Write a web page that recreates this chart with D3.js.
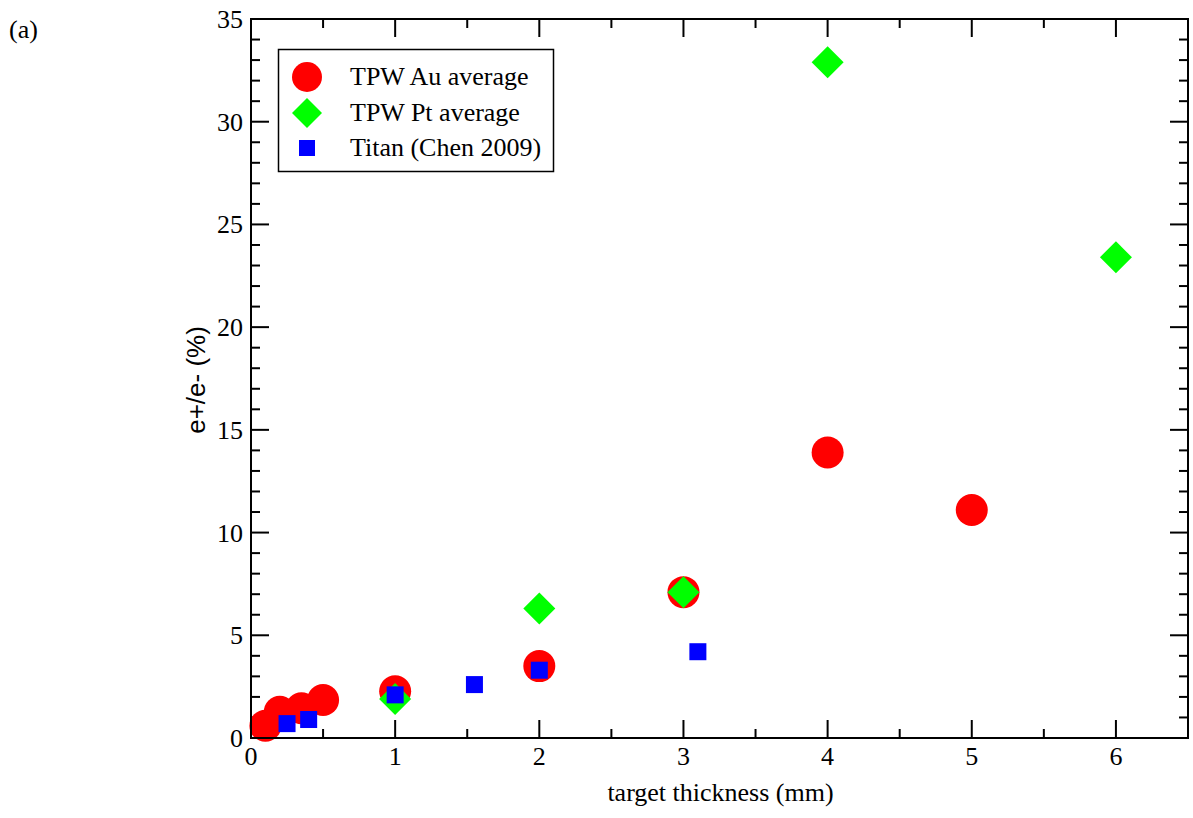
<!DOCTYPE html>
<html>
<head>
<meta charset="utf-8">
<script src="https://cdn.jsdelivr.net/npm/d3@7"></script>
<style>
  body { margin: 0; background: #fff; }
</style>
</head>
<body>
<svg id="chart" width="1193" height="818"></svg>
<script>
// ---- data ----
var auThickness = [0.1, 0.2, 0.35, 0.5, 1, 2, 3, 4, 5];
var auRatio     = [0.6, 1.28, 1.45, 1.85, 2.27, 3.5, 7.1, 13.9, 11.1];

var ptThickness = [1, 2, 3, 4, 6];
var ptRatio     = [1.9, 6.3, 7.1, 32.9, 23.4];

var titanThickness = [0.25, 0.4, 1, 1.55, 2, 3.1];
var titanRatio     = [0.7, 0.9, 2.1, 2.6, 3.3, 4.2];

var seriesNames = ["TPW Au average", "TPW Pt average", "Titan (Chen 2009)"];
var xTicks = [0, 1, 2, 3, 4, 5, 6];
var yTicks = [0, 5, 10, 15, 20, 25, 30, 35];

var SERIF = "'Liberation Serif', 'Times New Roman', Times, serif";

var svg = d3.select("#chart");
var margin = { left: 251, right: 5, top: 19, bottom: 80 };
var W = 1193, H = 818;

var x = d3.scaleLinear().domain([0, 6.5]).range([margin.left, W - margin.right]);
var y = d3.scaleLinear().domain([0, 35]).range([H - margin.bottom, margin.top]);

var x0 = x.range()[0], x1 = x.range()[1];
var y0 = y.range()[0], y1 = y.range()[1];

// inward ticks on all four sides
var xMinor = d3.range(0.5, 6.5, 1);
var yMinor = d3.range(0, 35, 1).filter(function(v) { return v % 5 !== 0; });

var ticks = svg.append("g").attr("stroke", "#000").attr("stroke-width", 2);
function tickLines(vals, len, horizontal) {
    vals.forEach(function(v) {
        if (horizontal) {
            ticks.append("line").attr("x1", x(v)).attr("x2", x(v)).attr("y1", y0).attr("y2", y0 - len);
            ticks.append("line").attr("x1", x(v)).attr("x2", x(v)).attr("y1", y1).attr("y2", y1 + len);
        } else {
            ticks.append("line").attr("y1", y(v)).attr("y2", y(v)).attr("x1", x0).attr("x2", x0 + len);
            ticks.append("line").attr("y1", y(v)).attr("y2", y(v)).attr("x1", x1).attr("x2", x1 - len);
        }
    });
}
tickLines(xTicks, 18, true);
tickLines(xMinor, 9, true);
tickLines(yTicks, 18, false);
tickLines(yMinor, 9, false);

// tick labels
svg.append("g").selectAll("text").data(xTicks).enter().append("text")
    .attr("x", function(d) { return x(d); })
    .attr("y", y0 + 27)
    .attr("text-anchor", "middle")
    .attr("font-family", SERIF)
    .attr("font-size", 26)
    .text(function(d) { return d; });

svg.append("g").selectAll("text").data(yTicks).enter().append("text")
    .attr("x", x0 - 8)
    .attr("y", function(d) { return y(d) + 9; })
    .attr("text-anchor", "end")
    .attr("font-family", SERIF)
    .attr("font-size", 26)
    .text(function(d) { return d; });

// axis titles
svg.append("text")
    .attr("x", (x0 + x1) / 2 + 1)
    .attr("y", 801)
    .attr("text-anchor", "middle")
    .attr("font-family", SERIF)
    .attr("font-size", 26)
    .text("target thickness (mm)");

svg.append("text")
    .attr("transform", "translate(205,380) rotate(-90)")
    .attr("text-anchor", "middle")
    .attr("font-size", 26)
    .attr("font-family", "'Liberation Sans', Arial, sans-serif")
    .text("e+/e- (%)");

svg.append("text")
    .attr("x", 9)
    .attr("y", 38)
    .attr("font-family", SERIF)
    .attr("font-size", 26)
    .text("(a)");

// ---- markers ----
var diamond = function(cx, cy, r) {
    return "M" + cx + "," + (cy - r) + "L" + (cx + r) + "," + cy + "L" + cx + "," + (cy + r) + "L" + (cx - r) + "," + cy + "Z";
};

svg.append("g").selectAll("circle").data(auThickness).enter().append("circle")
    .attr("cx", function(d) { return x(d); })
    .attr("cy", function(d, i) { return y(auRatio[i]); })
    .attr("r", 16)
    .attr("fill", "#ff0000");

svg.append("g").selectAll("path").data(ptThickness).enter().append("path")
    .attr("d", function(d, i) { return diamond(x(d), y(ptRatio[i]), 16); })
    .attr("fill", "#00ff00");

svg.append("g").selectAll("rect").data(titanThickness).enter().append("rect")
    .attr("x", function(d) { return x(d) - 8.5; })
    .attr("y", function(d, i) { return y(titanRatio[i]) - 8.5; })
    .attr("width", 17)
    .attr("height", 17)
    .attr("fill", "#0000ff");

// frame
svg.append("rect")
    .attr("x", x0).attr("y", y1)
    .attr("width", x1 - x0).attr("height", y0 - y1)
    .attr("fill", "none").attr("stroke", "#000").attr("stroke-width", 2);

// ---- legend ----
var legend = svg.append("g");
legend.append("rect")
    .attr("x", 278.5).attr("y", 49.5).attr("width", 275).attr("height", 122)
    .attr("fill", "#fff").attr("stroke", "#000").attr("stroke-width", 1.5);

var legendY = [77, 113, 148];
legend.append("circle").attr("cx", 307).attr("cy", legendY[0]).attr("r", 15).attr("fill", "#ff0000");
legend.append("path").attr("d", diamond(307, legendY[1], 15)).attr("fill", "#00ff00");
legend.append("rect").attr("x", 299).attr("y", legendY[2] - 8).attr("width", 16).attr("height", 16).attr("fill", "#0000ff");

legend.selectAll("text.lbl").data(seriesNames).enter().append("text")
    .attr("class", "lbl")
    .attr("x", 350)
    .attr("y", function(d, i) { return legendY[i] + 8; })
    .attr("font-family", SERIF)
    .attr("font-size", 26)
    .text(function(d) { return d; });
</script>
</body>
</html>
